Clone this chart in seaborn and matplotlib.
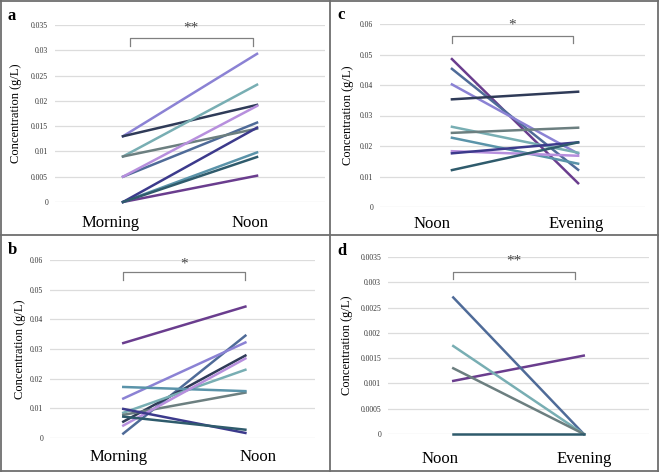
import matplotlib
matplotlib.use("Agg")
import matplotlib.pyplot as plt
from matplotlib.lines import Line2D
import pandas as pd
import seaborn as sns

# subjects share one colour each across panels
subjects = ["S1", "S2", "S3", "S4", "S5", "S6", "S7", "S8", "S9", "S10"]
colors = ["#6a3d8e", "#4f6b98", "#8b82d4", "#2f3b58", "#78aeb3",
          "#6c7f80", "#5a93a9", "#b78fdd", "#3c3a8c", "#2f5b6c"]

# panel a: Morning -> Noon
a_times = ["Morning", "Noon"]
a_first = [0.0, 0.005, 0.013, 0.013, 0.009, 0.009, 0.0, 0.005, 0.0, 0.0]
a_second = [0.0052, 0.0157, 0.0293, 0.0192, 0.0232, 0.0145, 0.0098, 0.019, 0.0147, 0.0089]

# panel b: Morning -> Noon
b_times = ["Morning", "Noon"]
b_first = [0.032, 0.0015, 0.0133, 0.0055, 0.0085, 0.0078, 0.0172, 0.0042, 0.0098, 0.0072]
b_second = [0.0443, 0.0345, 0.0322, 0.0278, 0.023, 0.0153, 0.0158, 0.0268, 0.0017, 0.0028]

# panel c: Noon -> Evening
c_times = ["Noon", "Evening"]
c_first = [0.0485, 0.0453, 0.0402, 0.0353, 0.0263, 0.0243, 0.0227, 0.0183, 0.0176, 0.0121]
c_second = [0.0078, 0.0122, 0.0175, 0.0378, 0.0178, 0.026, 0.0142, 0.0168, 0.0212, 0.0212]

# panel d: Noon -> Evening (only 5 subjects detected)
d_subjects = ["S1", "S2", "S5", "S6", "S10"]
d_times = ["Noon", "Evening"]
d_first = [0.00105, 0.0027, 0.00174, 0.0013, 0.0]
d_second = [0.00155, 0.0, 0.0, 0.0, 0.0]

palette = dict(zip(subjects, colors))

plt.rcParams["font.family"] = ["Liberation Serif", "DejaVu Serif"]


def to_long(subs, times, first, second):
    rows = []
    for s, v1, v2 in zip(subs, first, second):
        rows.append({"subject": s, "time": times[0], "conc": v1})
        rows.append({"subject": s, "time": times[1], "conc": v2})
    return pd.DataFrame(rows)


def draw_panel(ax, df, times, ymax, ystep, fmt, xlim, label_shift, xpad,
               ylab_x, stars, bracket):
    sns.lineplot(data=df, x="time", y="conc", hue="subject", palette=palette,
                 sort=False, legend=False, linewidth=1.8, ax=ax, zorder=3,
                 clip_on=False)
    ax.set_xlim(*xlim)
    ax.set_ylim(0, ymax)
    n = int(round(ymax / ystep))
    ticks = [i * ystep for i in range(n + 1)]
    ax.set_yticks(ticks)
    ax.set_yticklabels([fmt(t) for t in ticks], fontsize=5.5, color="#333333")
    # category labels sit a little off the line ends in the original
    ax.set_xticks([0 + label_shift[0], 1 + label_shift[1]])
    ax.set_xticklabels(times, fontsize=12)
    ax.tick_params(length=0)
    ax.tick_params(axis="x", pad=xpad)
    ax.tick_params(axis="y", pad=5)
    ax.grid(axis="y", color="#dcdcdc", linewidth=0.9, zorder=0)
    ax.grid(axis="x", visible=False)
    for sp in ax.spines.values():
        sp.set_visible(False)
    ax.set_xlabel("")
    ax.set_ylabel("Concentration (g/L)", fontsize=9)
    ax.yaxis.set_label_coords(ylab_x, 0.5)
    # significance bracket
    x0, x1, ytop, ybot, ystar = bracket
    ax.plot([x0, x0, x1, x1], [ybot, ytop, ytop, ybot], color="#808080",
            linewidth=0.9, clip_on=False)
    ax.text((x0 + x1) / 2, ystar, stars, ha="center", va="center",
            fontsize=11, color="#444444")


W, H = 659, 472
fig = plt.figure(figsize=(W / 100, H / 100), dpi=100)


def add_axes(left, top, right, bottom):
    return fig.add_axes([left / W, 1 - bottom / H, (right - left) / W, (bottom - top) / H])


ax_a = add_axes(55, 25, 325, 202)
ax_b = add_axes(50, 260, 315, 438)
ax_c = add_axes(380, 24, 645, 207)
ax_d = add_axes(388, 257, 649, 434)

draw_panel(ax_a, to_long(subjects, a_times, a_first, a_second), a_times,
           0.035, 0.005, lambda t: "0" if t == 0 else f"{t:g}",
           (-0.507, 1.507), (-0.09, -0.05), 9.4, -0.122,
           "**", (0.05, 0.97, 0.0324, 0.0308, 0.0343))
draw_panel(ax_b, to_long(subjects, b_times, b_first, b_second), b_times,
           0.06, 0.01, lambda t: "0" if t == 0 else f"{t:.2f}",
           (-0.6, 1.57), (-0.04, 0.107), 8.0, -0.09,
           "*", (0.0, 1.0, 0.056, 0.0533, 0.0588))
draw_panel(ax_c, to_long(subjects, c_times, c_first, c_second), c_times,
           0.06, 0.01, lambda t: "0" if t == 0 else f"{t:.2f}",
           (-0.57, 1.53), (-0.16, -0.016), 6.5, -0.098,
           "*", (0.0, 0.96, 0.056, 0.0538, 0.0595))
draw_panel(ax_d, to_long(d_subjects, d_times, d_first, d_second), d_times,
           0.0035, 0.0005, lambda t: "0" if t == 0 else f"{t:g}",
           (-0.5, 1.5), (-0.1, 0.0), 12.0, -0.134,
           "**", (0.0, 0.93, 0.0032, 0.00306, 0.00342))

# panel letters, placed in figure pixels
for letter, px, py in [("a", 8, 16), ("b", 8, 250), ("c", 337, 15), ("d", 337, 251)]:
    fig.text(px / W, 1 - py / H, letter, fontsize=12, fontweight="bold",
             ha="left", va="center")

# panel frames
frame = dict(color="#6e6e6e", linewidth=1.3, transform=fig.transFigure)
for xs, ys in [([1 / W, 1 / W], [0, 1]), ([1 - 1 / W, 1 - 1 / W], [0, 1]),
               ([0, 1], [1 / H, 1 / H]), ([0, 1], [1 - 1 / H, 1 - 1 / H]),
               ([330 / W, 330 / W], [0, 1]), ([0, 1], [1 - 235 / H, 1 - 235 / H])]:
    fig.add_artist(Line2D(xs, ys, **frame))

fig.savefig("out.png", dpi=100)
